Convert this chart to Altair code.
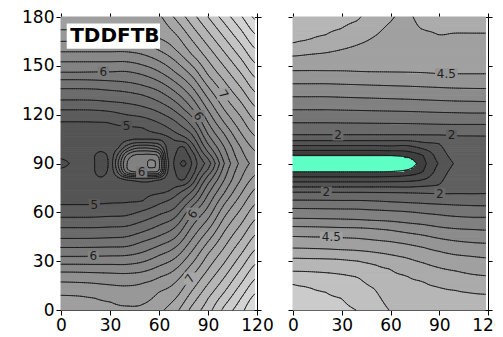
import altair as alt
import numpy as np
import pandas as pd

X_TICKS = [0, 30, 60, 90, 120]
Y_TICKS = [0, 30, 60, 90, 120, 150, 180]
COL_X = [0, 10, 20, 30, 40, 50, 60, 70, 80, 90, 100, 110, 120]

# ---------- Left panel (TDDFTB): (y, value) contour crossings read along each column x ----------
L_C000 = [(0,6.92),(9.2,6.8),(17.3,6.6),(23.4,6.4),(28.1,6.2),(32.9,6.0),(38.4,5.8),(43.9,5.6),(50.6,5.4),(56.9,5.2),(64.7,5.0),(75,4.92),(84,4.89),(90,4.72),(96,4.89),(105,4.92),(116,5.0),(123,5.2),(129,5.4),(136,5.6),(141.5,5.8),(146,6.0),(152.5,6.2),(158.6,6.4),(165,6.6),(172,6.8),(180,6.93)]
L_C010 = [(0,6.9),(8.8,6.8),(17,6.6),(23.3,6.4),(28.1,6.2),(32.9,6.0),(38.4,5.8),(43.9,5.6),(50.6,5.4),(56.9,5.2),(64.7,5.0),(75,4.92),(90,4.88),(105,4.92),(116,5.0),(123,5.2),(129,5.4),(136,5.6),(141.5,5.8),(146,6.0),(152.5,6.2),(158.6,6.4),(165,6.6),(172,6.8),(180,6.93)]
L_C020 = [(0,6.87),(7.5,6.8),(16.5,6.6),(23,6.4),(28,6.2),(33,6.0),(38.5,5.8),(44,5.6),(50.6,5.4),(57,5.2),(64.8,5.0),(75,4.92),(90,4.88),(105,4.92),(115.8,5.0),(122.8,5.2),(128.8,5.4),(135.8,5.6),(141.3,5.8),(146.2,6.0),(152.5,6.2),(158.6,6.4),(165,6.6),(172,6.8),(180,6.93)]
L_C030 = [(0,6.84),(5,6.8),(15.5,6.6),(22.7,6.4),(28,6.2),(33.2,6.0),(38.7,5.8),(44.4,5.6),(51,5.4),(57.5,5.2),(65.3,5.0),(75,4.92),(90,4.88),(105,4.92),(115,5.0),(122,5.2),(128,5.4),(135,5.6),(140.8,5.8),(146.3,6.0),(152.5,6.2),(158.6,6.4),(165,6.6),(172,6.8),(180,6.93)]
L_C040 = [(0,6.82),(2.5,6.8),(15,6.6),(22.5,6.4),(28,6.2),(33.5,6.0),(39,5.8),(45,5.6),(51.5,5.4),(58,5.2),(66,5.0),(75,4.92),(90,4.88),(105,4.93),(113,5.0),(120,5.2),(127,5.4),(134,5.6),(140,5.8),(146.5,6.0),(152.5,6.2),(158.6,6.4),(165,6.6),(172,6.8),(180,6.93)]
L_C050 = [(0,6.84),(3.5,6.8),(16.5,6.6),(23.5,6.4),(29.5,6.2),(35.5,6.0),(42,5.8),(48,5.6),(54.5,5.4),(61,5.2),(67,5.0),(76,4.92),(90,4.88),(104,4.92),(112,5.0),(118.5,5.2),(125,5.4),(132,5.6),(138,5.8),(144.5,6.0),(150.5,6.2),(157,6.4),(163.5,6.6),(170.5,6.8),(180,6.95)]
L_C060 = [(0,6.95),(11,6.8),(20,6.6),(27,6.4),(33.5,6.2),(39.5,6.0),(45.5,5.8),(52,5.6),(58.5,5.4),(65,5.2),(72,5.0),(80,4.92),(90,4.89),(100,4.92),(108,5.0),(115,5.2),(121.5,5.4),(128,5.6),(134.5,5.8),(140.5,6.0),(146.5,6.2),(153,6.4),(159.5,6.6),(167,6.8),(180,6.97)]
L_C070 = [(0,7.14),(6.9,7.0),(17,6.8),(25,6.6),(32,6.4),(38.5,6.2),(44.5,6.0),(51,5.8),(57,5.6),(63,5.4),(70,5.2),(77,5.0),(90,4.92),(102,5.0),(109,5.2),(116,5.4),(122,5.6),(128,5.8),(134,6.0),(140,6.2),(146,6.4),(153,6.6),(160,6.8),(169.8,7.0),(178.7,7.2),(180,7.23)]
L_C080 = [(0,7.45),(2.5,7.4),(11.5,7.2),(20.7,7.0),(28.3,6.8),(35.9,6.6),(43.4,6.4),(51,6.2),(58.5,6.0),(63.5,5.8),(68,5.6),(73,5.4),(78.5,5.2),(85,5.0),(90,4.96),(95,5.0),(102,5.2),(108,5.4),(113,5.6),(119,5.8),(124,6.0),(130.6,6.2),(137.2,6.4),(143.8,6.6),(150.4,6.8),(157,7.0),(166,7.2),(174.9,7.4),(180,7.51)]
L_C090 = [(0,7.72),(7,7.6),(16,7.4),(25,7.2),(34.4,7.0),(42,6.8),(49,6.6),(56,6.4),(63.5,6.2),(71,6.0),(77.5,5.8),(82.5,5.6),(86.5,5.4),(90,5.3),(93,5.4),(97,5.6),(102,5.8),(108,6.0),(115.3,6.2),(122.6,6.4),(130,6.6),(137.2,6.8),(144.4,7.0),(153.3,7.2),(162.2,7.4),(171.1,7.6),(180,7.8)]
L_C100 = [(0,8.05),(2.5,8.0),(11,7.8),(20,7.6),(29,7.4),(38.5,7.2),(48.2,7.0),(57,6.8),(65,6.6),(72,6.4),(80,6.2),(90,6.0),(100,6.2),(108,6.4),(115,6.6),(123,6.8),(131.7,7.0),(140.6,7.2),(149.5,7.4),(158.4,7.6),(167.3,7.8),(176.2,8.0),(180,8.09)]
L_C110 = [(0,8.33),(7,8.2),(16,8.0),(25,7.8),(34,7.6),(43,7.4),(52.5,7.2),(61.9,7.0),(71,6.8),(80,6.6),(90,6.45),(100,6.6),(109,6.8),(118.9,7.0),(127.9,7.2),(136.8,7.4),(145.7,7.6),(154.6,7.8),(163.5,8.0),(172.4,8.2),(180,8.37)]
L_C120 = [(0,8.62),(2,8.6),(11,8.4),(20,8.2),(29,8.0),(38,7.8),(47,7.6),(56.5,7.4),(66,7.2),(75.6,7.0),(83.5,6.8),(90,6.68),(97,6.8),(106,7.0),(115.2,7.2),(124.1,7.4),(133,7.6),(141.9,7.8),(150.8,8.0),(159.7,8.2),(168.6,8.4),(177.5,8.6),(180,8.66)]
LEFT_COLUMNS = [L_C000, L_C010, L_C020, L_C030, L_C040, L_C050, L_C060, L_C070, L_C080, L_C090, L_C100, L_C110, L_C120]

# centre detail of the left panel, values read on a 5-unit mesh (x 20..80, y 75..105)
LP_X = [15, 20, 25, 30, 35, 40, 45, 50, 55, 60, 65, 70, 75, 80, 85]
LP_Y = [70, 75, 80, 85, 90, 95, 100, 105, 110]
LP_Y075 = [4.90,4.89,4.90,4.90,4.92,4.94,4.93,4.94,4.93,4.93,5.02,5.12,5.30]
LP_Y080 = [4.84,4.82,4.86,4.92,5.00,5.06,5.10,5.08,5.00,4.90,4.84,4.80,5.05]
LP_Y085 = [4.81,4.77,4.86,5.25,5.85,6.02,6.02,6.03,5.92,5.03,4.80,4.70,4.88]
LP_Y090 = [4.81,4.73,4.86,5.40,5.97,6.08,6.10,6.24,6.05,5.10,4.75,4.56,4.80]
LP_Y095 = [4.81,4.77,4.86,5.25,5.80,6.02,6.04,6.05,5.92,5.01,4.80,4.70,4.88]
LP_Y100 = [4.86,4.84,4.88,4.98,5.28,5.50,5.55,5.52,5.38,4.96,4.85,4.79,5.08]
LP_Y105 = [4.90,4.90,4.90,4.92,4.95,4.99,4.99,4.99,4.98,4.95,5.04,5.12,5.30]
LEFT_PATCH = [LP_Y075, LP_Y080, LP_Y085, LP_Y090, LP_Y095, LP_Y100, LP_Y105]

# ---------- Right panel: (y, value) contour crossings along each column x ----------
R_MID = [(75.6,1.5),(78.7,1.0),(81.8,0.5),(84.8,0.0),(90,-0.5),(95.2,0.0),(98,0.5),(101,1.0),(104,1.5)]
R_C000 = [(0,6.8),(15.7,6.5),(23.8,6.0),(31.9,5.5),(38,5.0),(45.2,4.5),(51.3,4.0),(56.3,3.5),(62.4,3.0),(67.5,2.5),(72.5,2.0)] + R_MID + [(107.5,2.0),(115,2.5),(123,3.0),(131,3.5),(139,4.0),(147,4.5),(156,5.0),(164,5.5),(180,5.8)]
R_C010 = [(0,6.72),(14,6.5),(23.6,6.0),(31.7,5.5),(37.8,5.0),(45,4.5),(51.2,4.0),(56.2,3.5),(62.3,3.0),(67.5,2.5),(72.5,2.0)] + R_MID + [(107.5,2.0),(115,2.5),(123,3.0),(131,3.5),(139,4.0),(147,4.5),(157,5.0),(166,5.5),(180,5.75)]
R_C020 = [(0,6.65),(11,6.5),(23,6.0),(31.5,5.5),(37.5,5.0),(44.8,4.5),(51,4.0),(56,3.5),(62.2,3.0),(67.4,2.5),(72.5,2.0)] + R_MID + [(107.5,2.0),(115,2.5),(123,3.0),(131,3.5),(139,4.0),(146.9,4.5),(158,5.0),(169,5.5),(180,5.7)]
R_C030 = [(0,6.58),(7,6.5),(22,6.0),(31,5.5),(37,5.0),(44.4,4.5),(50.7,4.0),(55.8,3.5),(62.1,3.0),(67.3,2.5),(72.4,2.0)] + R_MID + [(107.5,2.0),(114.9,2.5),(122.8,3.0),(130.7,3.5),(138.7,4.0),(146.8,4.5),(160,5.0),(173,5.5),(180,5.62)]
R_C040 = [(0,6.48),(20,6.0),(30,5.5),(36.5,5.0),(44,4.5),(50.5,4.0),(55.5,3.5),(62,3.0),(67.3,2.5),(72.4,2.0)] + R_MID + [(107.5,2.0),(114.8,2.5),(122.6,3.0),(130.4,3.5),(138.4,4.0),(146.5,4.5),(163,5.0),(178,5.5),(180,5.53)]
R_C050 = [(0,6.25),(13,6.0),(28,5.5),(35.5,5.0),(43,4.5),(50,4.0),(55,3.5),(61.5,3.0),(67,2.5),(72.3,2.0)] + R_MID + [(107.5,2.0),(114.7,2.5),(122.4,3.0),(130.1,3.5),(138.1,4.0),(146.3,4.5),(168,5.0),(180,5.3)]
R_C060 = [(0,5.98),(25,5.5),(34,5.0),(42,4.5),(49,4.0),(54.5,3.5),(61,3.0),(66.5,2.5),(72.2,2.0),(75.6,1.5),(78.8,1.0),(82,0.5),(85,0.0),(90,-0.5),(95,0.0),(97.8,0.5),(100.8,1.0),(104,1.5),(107.5,2.0),(114.6,2.5),(122.2,3.0),(129.8,3.5),(137.8,4.0),(146,4.5),(177,5.0),(180,5.03)]
R_C070 = [(0,5.85),(21,5.5),(32,5.0),(40.5,4.5),(47.5,4.0),(53.5,3.5),(60.5,3.0),(66,2.5),(72,2.0),(75.5,1.5),(79,1.0),(82.5,0.5),(86,0.0),(90,-0.45),(94,0.0),(97.5,0.5),(101,1.0),(104,1.5),(107.5,2.0),(114.5,2.5),(122,3.0),(129.5,3.5),(137.5,4.0),(145.8,4.5),(170,4.95),(180,4.98)]
R_C080 = [(0,5.8),(17.5,5.5),(29,5.0),(38.5,4.5),(46,4.0),(52.5,3.5),(59.5,3.0),(65.5,2.5),(71.8,2.0),(76,1.5),(80,1.0),(85,0.5),(90,0.35),(95,0.5),(99,1.0),(103,1.5),(107.5,2.0),(114.3,2.5),(121.7,3.0),(129.1,3.5),(137.1,4.0),(145.5,4.5),(172,5.0),(180,5.05)]
R_C090 = [(0,5.77),(14,5.5),(26,5.0),(36,4.5),(44,4.0),(51,3.5),(58.5,3.0),(65,2.5),(71.5,2.0),(77,1.5),(90,1.05),(102,1.5),(107.5,2.0),(114.1,2.5),(121.4,3.0),(128.7,3.5),(136.7,4.0),(145.2,4.5),(169,5.0),(180,5.1)]
R_C100 = [(0,5.76),(12,5.5),(24,5.0),(34,4.5),(42.5,4.0),(50,3.5),(57.5,3.0),(64.5,2.5),(71.2,2.0),(90,1.55),(107.3,2.0),(114,2.5),(121.2,3.0),(128.4,3.5),(136.3,4.0),(145,4.5),(170,5.0),(180,5.13)]
R_C110 = [(0,5.75),(10.5,5.5),(22,5.0),(33,4.5),(41.5,4.0),(49.5,3.5),(57,3.0),(64.2,2.5),(71,2.0),(90,1.75),(107.2,2.0),(114,2.5),(121,3.0),(128.2,3.5),(136.1,4.0),(145,4.5),(170,5.0),(180,5.14)]
R_C120 = [(0,5.75),(9.6,5.5),(21,5.0),(32,4.5),(41,4.0),(49,3.5),(57,3.0),(64,2.5),(71,2.0),(90,1.85),(107,2.0),(114,2.5),(121,3.0),(128,3.5),(136,4.0),(145,4.5),(170,5.0),(180,5.15)]
RIGHT_COLUMNS = [R_C000, R_C010, R_C020, R_C030, R_C040, R_C050, R_C060, R_C070, R_C080, R_C090, R_C100, R_C110, R_C120]

LEFT_LEVELS = [round(4.6 + 0.2 * i, 2) for i in range(22)]      # 4.6 ... 8.8
RIGHT_LEVELS = [round(0.5 * i, 2) for i in range(15)]            # 0 ... 7

# contour labels
L_LAB_T = ["6", "5", "6", "7", "6", "5", "6", "6", "7"]
L_LAB_X = [25.9, 40.2, 84.1, 99.4, 49.4, 20.4, 19.8, 80.6, 79.0]
L_LAB_Y = [147.5, 111.9, 117.0, 132.2, 85.4, 64.5, 33.1, 60.0, 19.3]
L_LAB_A = [0, 0, 55, 55, 0, 0, 0, 305, 305]
R_LAB_T = ["4.5", "2", "2", "2", "2", "4.5"]
R_LAB_X = [94.4, 27.7, 97.5, 20.5, 90.3, 23.6]
R_LAB_Y = [144.8, 107.6, 107.2, 72.0, 71.2, 43.1]
R_LAB_A = [0, 0, 0, 0, 0, 0]

X_END = 118.5   # filled area stops just short of the right frame


def cr_matrix(start, step, n, coords, outside_zero):
    W = np.zeros((len(coords), n))
    for k, t in enumerate(coords):
        u = (t - start) / step
        if outside_zero and (u < 0 or u > n - 1):
            continue
        u = min(max(u, 0.0), n - 1.0)
        i = int(np.floor(u))
        if i >= n - 1:
            i = n - 2
        s = u - i
        w = [(-s**3 + 2*s**2 - s) / 2, (3*s**3 - 5*s**2 + 2) / 2,
             (-3*s**3 + 4*s**2 + s) / 2, (s**3 - s**2) / 2]
        for j, wj in zip(range(i - 1, i + 3), w):
            W[k, min(max(j, 0), n - 1)] += wj
    return W


def make_field(columns, xq, yq, patch=None):
    xq = np.asarray(xq, float)
    yq = np.asarray(yq, float)
    prof = np.array([np.interp(yq, [p[0] for p in c], [p[1] for p in c]) for c in columns])
    Wx = cr_matrix(COL_X[0], 10.0, len(columns), xq, False)
    V = (Wx @ prof).T
    if patch is not None:
        pxn, pyn, T = patch
        base = make_field(columns, pxn, pyn)
        D = np.zeros_like(base)
        D[1:-1, 1:-1] = np.array(T) - base[1:-1, 1:-1]
        Wpx = cr_matrix(pxn[0], 5.0, len(pxn), xq, True)
        Wpy = cr_matrix(pyn[0], 5.0, len(pyn), yq, True)
        V = V + Wpy @ D @ Wpx.T
    return V


def fill_runs(columns, patch, levels):
    xe = np.linspace(0, X_END, 198)
    ye = np.linspace(0, 180, 151)
    xc = (xe[:-1] + xe[1:]) / 2
    yc = (ye[:-1] + ye[1:]) / 2
    V = make_field(columns, xc, yc, patch)
    band = np.digitize(V, levels)
    rows = []
    for j in range(len(yc)):
        b = band[j]
        starts = np.r_[0, np.nonzero(np.diff(b))[0] + 1]
        ends = np.r_[starts[1:], len(xc)]
        for s, e in zip(starts, ends):
            rows.append((xe[s], xe[e], ye[j], ye[j + 1], float(V[j, s])))
    return pd.DataFrame(rows, columns=["x0", "x1", "y0", "y1", "v"])


def contour_segments(columns, patch, levels):
    xs = np.linspace(0, X_END, 100)
    ys = np.linspace(0, 180, 151)
    V = make_field(columns, xs, ys, patch)
    X0 = np.broadcast_to(xs[:-1][None, :], (len(ys) - 1, len(xs) - 1))
    X1 = np.broadcast_to(xs[1:][None, :], X0.shape)
    Y0 = np.broadcast_to(ys[:-1][:, None], X0.shape)
    Y1 = np.broadcast_to(ys[1:][:, None], X0.shape)
    out = []
    with np.errstate(divide="ignore", invalid="ignore"):
        for L in levels:
            A = V - L
            a00, a10, a01, a11 = A[:-1, :-1], A[:-1, 1:], A[1:, :-1], A[1:, 1:]
            def cr(a, b):
                return (a >= 0) != (b >= 0)
            eb, er, et, el = cr(a00, a10), cr(a10, a11), cr(a01, a11), cr(a00, a01)
            tb, tr, tt, tl = a00 / (a00 - a10), a10 / (a10 - a11), a01 / (a01 - a11), a00 / (a00 - a01)
            pts = [(eb, X0 + tb * (X1 - X0), Y0),
                   (er, X1, Y0 + tr * (Y1 - Y0)),
                   (et, X0 + tt * (X1 - X0), Y1),
                   (el, X0, Y0 + tl * (Y1 - Y0))]
            cnt = eb.astype(int) + er + et + el
            first = np.zeros(X0.shape, bool)
            p1x = np.zeros(X0.shape); p1y = np.zeros(X0.shape)
            p2x = np.zeros(X0.shape); p2y = np.zeros(X0.shape)
            for m, px, py in pts:
                s2 = m & first
                p2x = np.where(s2, px, p2x); p2y = np.where(s2, py, p2y)
                s1 = m & ~first
                p1x = np.where(s1, px, p1x); p1y = np.where(s1, py, p1y)
                first |= s1
            sel = cnt >= 2
            for a, b, c, d in zip(p1x[sel], p1y[sel], p2x[sel], p2y[sel]):
                out.append((a, b, c, d))
            sel4 = cnt == 4
            if sel4.any():
                for a, b, c, d in zip(pts[1][1][sel4], pts[1][2][sel4], pts[2][1][sel4], pts[2][2][sel4]):
                    out.append((a, b, c, d))
    return pd.DataFrame(out, columns=["x", "y", "x2", "y2"])


def label_frame(columns, patch, texts, xs, ys, angles):
    rows = []
    yy = np.arange(0, 180.01, 0.1)
    for t, x, y, a in zip(texts, xs, ys, angles):
        L = float(t)
        col = make_field(columns, [x], yy, patch)[:, 0] - L
        idx = np.nonzero(np.diff(np.sign(col)) != 0)[0]
        if len(idx):
            cand = yy[idx]
            best = cand[np.argmin(np.abs(cand - y))]
            if abs(best - y) < 10:
                y = float(best)
        v = float(make_field(columns, [x], [y], patch)[0, 0])
        hw = (3.4 if len(t) == 1 else 7.0) if a == 0 else 3.8
        hh = 3.4 if a == 0 else 3.8
        rows.append(dict(t=t, x=x, y=y, a=a, v=v, lx0=x - hw, lx1=x + hw, ly0=y - hh, ly1=y + hh))
    return pd.DataFrame(rows)


def gray_hex(g):
    g = int(max(0, min(255, round(g))))
    return "#%02x%02x%02x" % (g, g, g)


LEFT_COLORS = [gray_hex(74 + (((LEFT_LEVELS[max(i - 1, 0)] + LEFT_LEVELS[min(i, len(LEFT_LEVELS) - 1)]) / 2) - 4.6) * 37)
               for i in range(len(LEFT_LEVELS) + 1)]
RIGHT_COLORS = ["#5fffc6"] + [gray_hex(58 + ((RIGHT_LEVELS[i - 1] + RIGHT_LEVELS[min(i, len(RIGHT_LEVELS) - 1)]) / 2) * 21.5)
                              for i in range(1, len(RIGHT_LEVELS) + 1)]

PLOT_H = 293


def panel(columns, patch, levels, colors, labels, width, show_y_labels, title_box, key):
    xsc = alt.Scale(domain=[0, 120], nice=False, zero=False)
    ysc = alt.Scale(domain=[0, 180], nice=False, zero=False)
    csc = alt.Scale(type="threshold", domain=levels, range=colors)
    fill = fill_runs(columns, patch, levels).rename(columns={"v": key})
    segs = contour_segments(columns, patch, levels)
    lab = label_frame(columns, patch, *labels).rename(columns={"v": key})

    base_fill = alt.Chart(fill).mark_rect(strokeWidth=1).encode(
        x=alt.X("x0:Q", scale=xsc, axis=alt.Axis(values=X_TICKS, title=None, orient="bottom")),
        x2="x1:Q",
        y=alt.Y("y0:Q", scale=ysc, axis=alt.Axis(values=Y_TICKS, title=None, orient="left",
                                                  labels=show_y_labels)),
        y2="y1:Q",
        color=alt.Color(f"{key}:Q", scale=csc, legend=None),
        stroke=alt.Stroke(f"{key}:Q", scale=csc, legend=None),
    )
    lines = alt.Chart(segs).mark_rule(color="#151515", strokeWidth=0.85, strokeCap="round").encode(
        x=alt.X("x:Q", scale=xsc, axis=None), y=alt.Y("y:Q", scale=ysc, axis=None),
        x2="x2:Q", y2="y2:Q")
    lab_bg = alt.Chart(lab).mark_rect().encode(
        x=alt.X("lx0:Q", scale=xsc, axis=None), x2="lx1:Q",
        y=alt.Y("ly0:Q", scale=ysc, axis=None), y2="ly1:Q",
        color=alt.Color(f"{key}:Q", scale=csc, legend=None))
    lab_txt = alt.Chart(lab).mark_text(font="DejaVu Sans", fontSize=12, color="#1e1e1e",
                                       baseline="middle", align="center").encode(
        x=alt.X("x:Q", scale=xsc, axis=None), y=alt.Y("y:Q", scale=ysc, axis=None),
        text="t:N", angle=alt.Angle("a:Q", scale=None))
    frame = alt.Chart(pd.DataFrame({"x": [0], "y": [0]})).mark_point(opacity=0).encode(
        x=alt.X("x:Q", scale=xsc, axis=alt.Axis(values=X_TICKS, title=None, orient="top", labels=False, tickSize=4)),
        y=alt.Y("y:Q", scale=ysc, axis=alt.Axis(values=Y_TICKS, title=None, orient="right", labels=False, tickSize=4)))
    layers = [base_fill, lines, lab_bg, lab_txt]
    if title_box is not None:
        tb = pd.DataFrame([title_box])
        box = alt.Chart(tb).mark_rect(color="white").encode(
            x=alt.X("bx0:Q", scale=xsc, axis=None), x2="bx1:Q",
            y=alt.Y("by0:Q", scale=ysc, axis=None), y2="by1:Q")
        txt = alt.Chart(tb).mark_text(font="DejaVu Sans", fontSize=20, fontWeight="bold", color="black",
                                      align="left", baseline="middle").encode(
            x=alt.X("tx:Q", scale=xsc, axis=None), y=alt.Y("ty:Q", scale=ysc, axis=None), text="t:N")
        layers += [box, txt]
    layers.append(frame)
    return alt.layer(*layers).resolve_axis(x="independent", y="independent").properties(width=width, height=PLOT_H)


TITLE_BOX = dict(bx0=3.5, bx1=60.6, by0=160.5, by1=176.0, tx=5.6, ty=168.3, t="TDDFTB")

left = panel(LEFT_COLUMNS, (LP_X, LP_Y, LEFT_PATCH), LEFT_LEVELS, LEFT_COLORS,
             (L_LAB_T, L_LAB_X, L_LAB_Y, L_LAB_A), 196, True, TITLE_BOX, "vl")
right = panel(RIGHT_COLUMNS, None, RIGHT_LEVELS, RIGHT_COLORS,
              (R_LAB_T, R_LAB_X, R_LAB_Y, R_LAB_A), 195, False, None, "vr")

chart = alt.hconcat(left, right, spacing=36, bounds="flush").resolve_scale(
    color="independent", stroke="independent"
).properties(
    autosize=alt.AutoSizeParams(type="none"),
    padding={"left": 53, "top": 9, "right": 434, "bottom": 312}
).configure_view(stroke=None).configure_axis(
    labelFont="DejaVu Sans", labelFontSize=17, labelColor="black", labelPadding=2,
    labelFlush=False, labelOverlap=False, domainColor="black", domainWidth=1,
    tickColor="black", tickWidth=1, tickSize=5, grid=False
)

chart.save("out.html", embed_options={"renderer": "svg", "actions": False})
